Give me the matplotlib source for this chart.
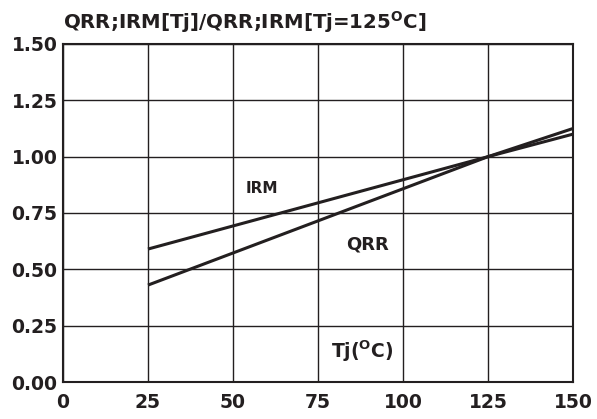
import numpy as np
import matplotlib.pyplot as plt

# Tj in degC and normalised values
tj = [25, 125, 150]
irm = [0.59, 1.00, 1.10]
qrr = [0.43, 1.00, 1.125]

x_ticks = [0, 25, 50, 75, 100, 125, 150]
y_ticks = [0.00, 0.25, 0.50, 0.75, 1.00, 1.25, 1.50]

plt.rcParams['font.family'] = ['DejaVu Sans']
plt.rcParams['mathtext.fontset'] = 'dejavusans'

ink = '#231f20'

fig = plt.figure(figsize=(5.97, 4.19), dpi=100)
ax = fig.add_axes([0.1055, 0.0883, 0.8543, 0.8067])

ax.plot(tj, irm, color=ink, lw=2.2, solid_capstyle='butt')
ax.plot(tj, qrr, color=ink, lw=2.2, solid_capstyle='butt')

ax.set_xlim(0, 150)
ax.set_ylim(0, 1.5)
ax.set_xticks(x_ticks)
ax.set_yticks(y_ticks)
ax.set_xticklabels([str(v) for v in x_ticks])
ax.set_yticklabels(['%.2f' % v for v in y_ticks])
ax.tick_params(length=0, labelsize=13.5, colors=ink)
ax.tick_params(axis='x', pad=8)
ax.tick_params(axis='y', pad=4)
for lab in ax.get_xticklabels() + ax.get_yticklabels():
    lab.set_fontweight('bold')
ax.grid(True, color=ink, lw=1.0)
for s in ax.spines.values():
    s.set_linewidth(1.5)
    s.set_color(ink)

ax.text(58.5, 0.86, 'IRM', fontsize=11, fontweight='bold', ha='center', va='center', color=ink)
ax.text(89.6, 0.61, 'QRR', fontsize=13, fontweight='bold', ha='center', va='center', color=ink)
ax.text(88, 0.135, r'Tj($^{\mathbf{O}}$C)', fontsize=13.5, fontweight='bold', ha='center', va='center', color=ink)

fig.text(63 / 597, 1 - 9 / 419, r'QRR;IRM[Tj]/QRR;IRM[Tj=125$^{\mathbf{O}}$C]', fontsize=14.2, fontweight='bold',
         ha='left', va='top', color=ink)

fig.savefig('out.png', dpi=100)
